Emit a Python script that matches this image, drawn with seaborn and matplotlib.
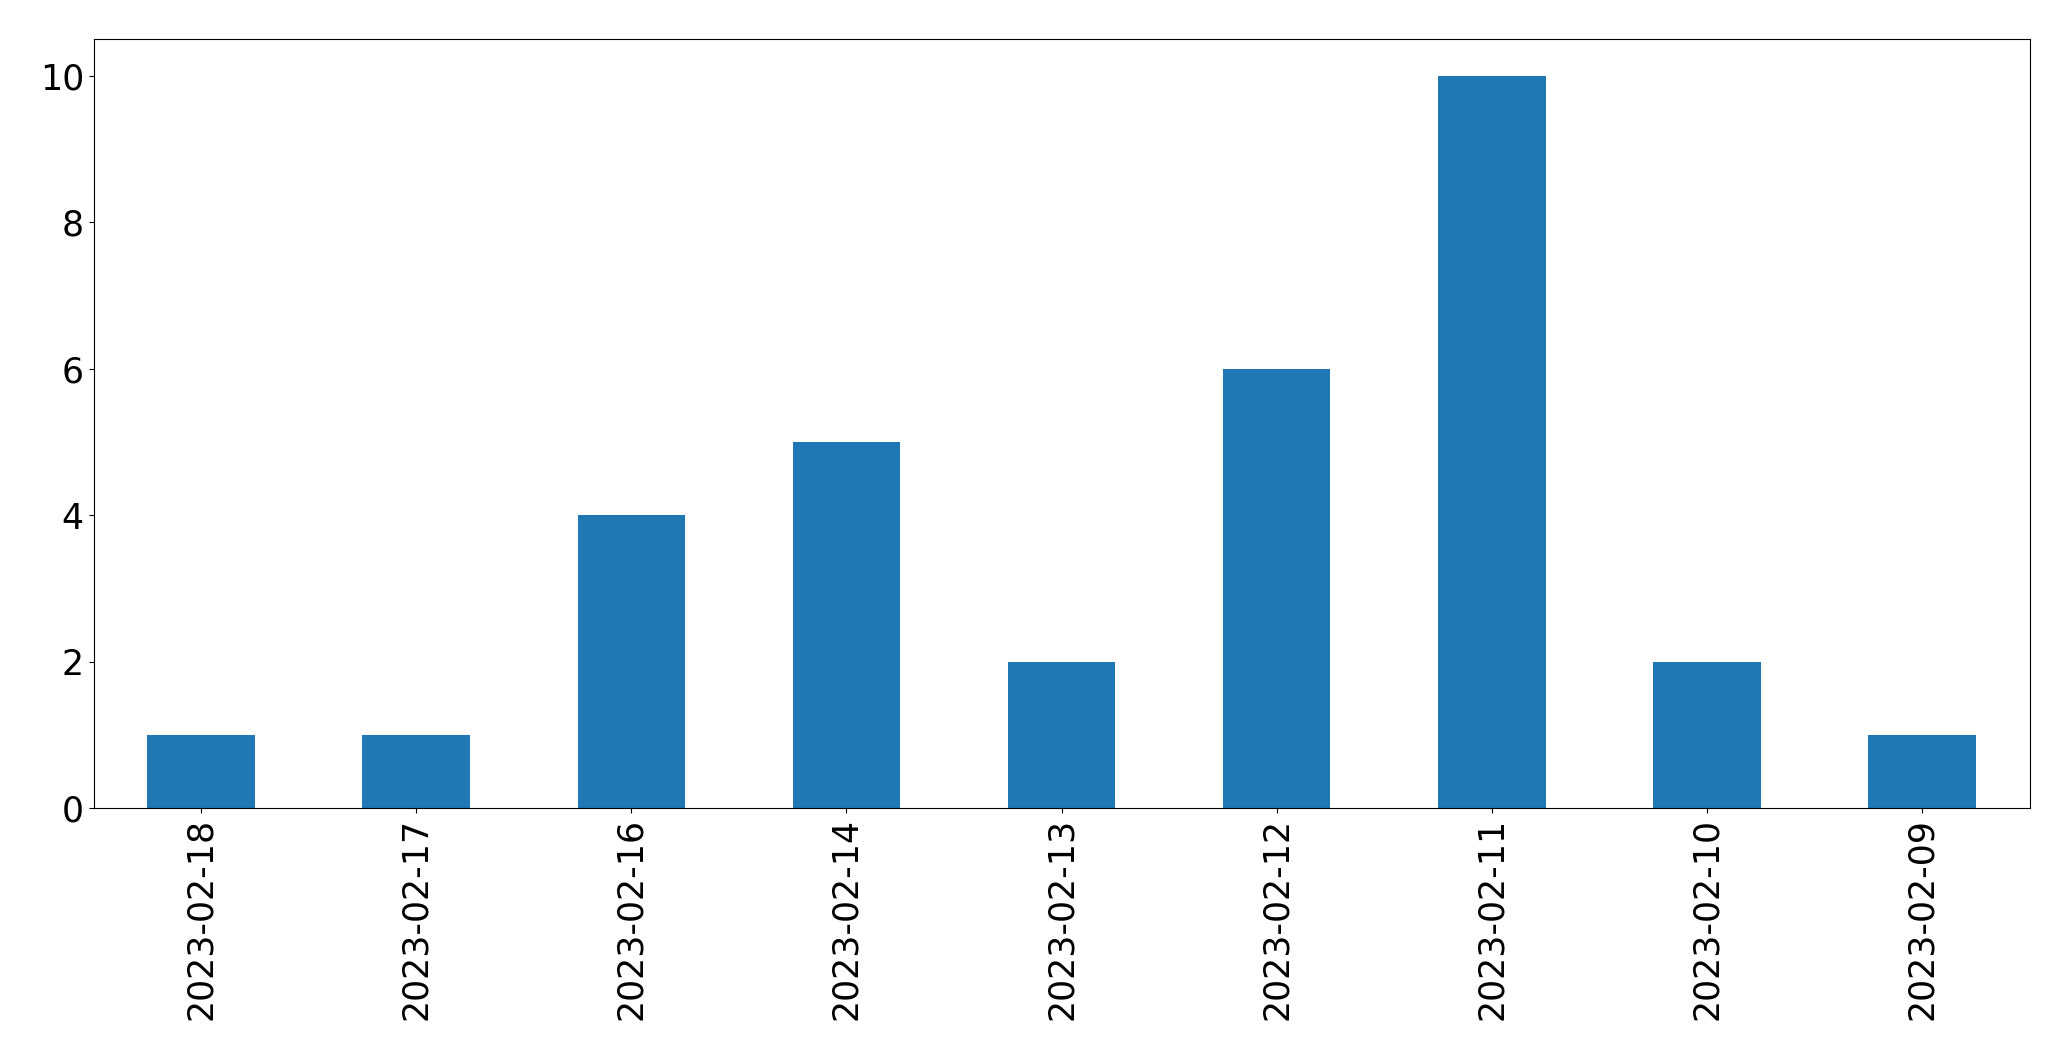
import matplotlib
matplotlib.use("Agg")
import matplotlib.pyplot as plt
import pandas as pd
import seaborn as sns

# counts per day, in the order shown
DATES = ["2023-02-18", "2023-02-17", "2023-02-16", "2023-02-14", "2023-02-13",
         "2023-02-12", "2023-02-11", "2023-02-10", "2023-02-09"]
COUNTS = [1, 1, 4, 5, 2, 6, 10, 2, 1]

df = pd.DataFrame({"date": DATES, "count": COUNTS})

fig = plt.figure(figsize=(20.71, 10.61), dpi=100)
ax = fig.add_axes([0.0452, 0.238, 0.9348, 0.725])

sns.barplot(data=df, x="date", y="count", order=DATES, color="#1f77b4",
            saturation=1, width=0.5, linewidth=0, ax=ax)

ax.set_xlabel("")
ax.set_ylabel("")
ax.set_ylim(0, 10.5)
ax.set_xlim(-0.5, len(DATES) - 0.5)
ax.tick_params(axis="both", labelsize=25)
ax.tick_params(axis="x", rotation=90)

plt.savefig("out.png", dpi=100)
